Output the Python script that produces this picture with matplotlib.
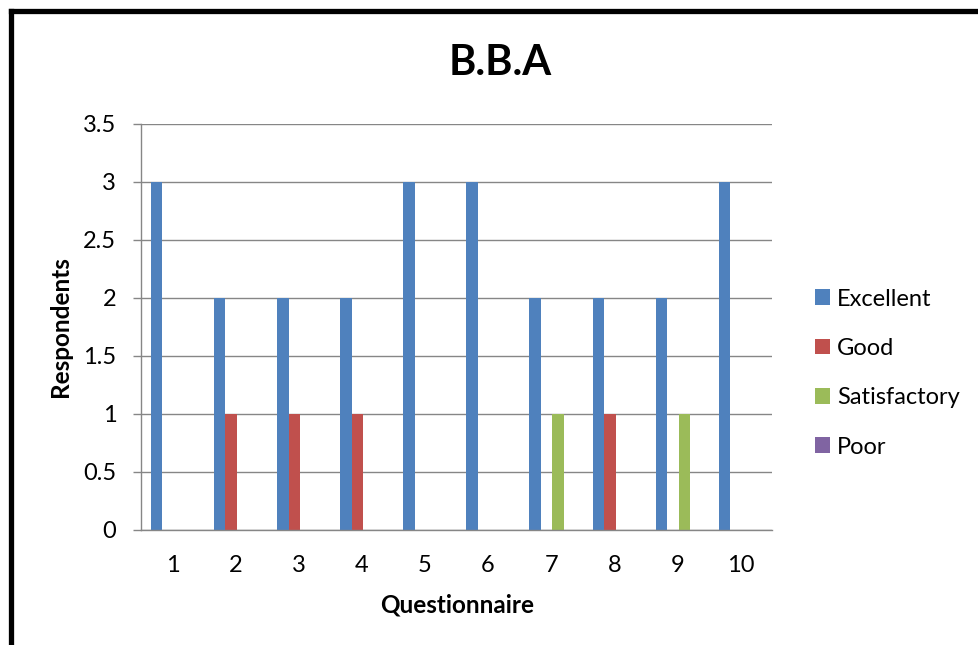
import matplotlib
matplotlib.use('Agg')
import matplotlib.pyplot as plt
import numpy as np
from matplotlib.lines import Line2D

categories = ['1', '2', '3', '4', '5', '6', '7', '8', '9', '10']
series_names = ['Excellent', 'Good', 'Satisfactory', 'Poor']
excellent = [3, 2, 2, 2, 3, 3, 2, 2, 2, 3]
good = [0, 1, 1, 1, 0, 0, 0, 1, 0, 0]
satisfactory = [0, 0, 0, 0, 0, 0, 1, 0, 1, 0]
poor = [0, 0, 0, 0, 0, 0, 0, 0, 0, 0]
y_ticks = [0, 0.5, 1, 1.5, 2, 2.5, 3, 3.5]
y_tick_labels = ['0', '0.5', '1', '1.5', '2', '2.5', '3', '3.5']
title = 'B.B.A'
x_label = 'Questionnaire'
y_label = 'Respondents'

colors = ['#4F81BD', '#C0504D', '#9BBB59', '#8064A2']
grid_color = '#868686'

plt.rcParams['font.family'] = ['Lato', 'DejaVu Sans']

W, H = 979, 645
fig = plt.figure(figsize=(W / 100, H / 100), dpi=100)
fig.patch.set_facecolor('white')

ax = fig.add_axes([141 / W, 1 - 530 / H, (772 - 141) / W, (530 - 124) / H])

x = np.arange(len(categories))
w = 1 / 5.5
all_series = [excellent, good, satisfactory, poor]
for i, (name, vals, c) in enumerate(zip(series_names, all_series, colors)):
    ax.bar(x + (i - 1.5) * w + 0.02, vals, width=w, color=c, label=name,
           zorder=3, linewidth=0)

ax.set_xlim(-0.5, len(categories) - 0.5)
ax.set_ylim(0, 3.5)
ax.set_xticks(x)
ax.set_xticklabels(categories)
ax.set_yticks(y_ticks)
ax.set_yticklabels(y_tick_labels)

for s in ['top', 'right']:
    ax.spines[s].set_visible(False)
for s in ['left', 'bottom']:
    ax.spines[s].set_color(grid_color)
    ax.spines[s].set_linewidth(1.0)
    ax.spines[s].set_zorder(4)

ax.yaxis.grid(True, color=grid_color, linewidth=1.0, zorder=0)
ax.set_axisbelow(True)

ax.tick_params(axis='y', length=5.8, width=1.0, color=grid_color, pad=12,
               labelsize=17, labelcolor='black')
ax.tick_params(axis='x', length=0, pad=18, labelsize=17, labelcolor='black')

ax.set_xlabel(x_label, fontsize=17.5, fontweight='bold')
ax.xaxis.set_label_coords(457 / W, 1 - 613 / H, transform=fig.transFigure)
ax.xaxis.label.set_va('baseline')

ax.set_ylabel(y_label, fontsize=17.5, fontweight='bold')
ax.yaxis.set_label_coords(61 / W, 1 - 327 / H, transform=fig.transFigure)
ax.yaxis.label.set_va('center')
ax.yaxis.label.set_ha('center')

fig.text(500 / W, 1 - 75 / H, title, ha='center', va='baseline',
         fontsize=30, fontweight='bold')

leg = ax.legend(loc='center left', bbox_to_anchor=(815 / W, 1 - 373 / H),
                bbox_transform=fig.transFigure, frameon=False, fontsize=17,
                handlelength=0.63, handleheight=0.63, handletextpad=0.3,
                labelspacing=1.2, borderpad=0, borderaxespad=0)

# chart border (top and left edges visible)
fig.add_artist(Line2D([10.5 / W, 1.01], [1 - 10.5 / H, 1 - 10.5 / H],
                      transform=fig.transFigure, color='black', linewidth=3.8,
                      solid_capstyle='projecting'))
fig.add_artist(Line2D([10.5 / W, 10.5 / W], [1 - 10.5 / H, -0.01],
                      transform=fig.transFigure, color='black', linewidth=3.8,
                      solid_capstyle='projecting'))

fig.savefig('out.png', dpi=100)
